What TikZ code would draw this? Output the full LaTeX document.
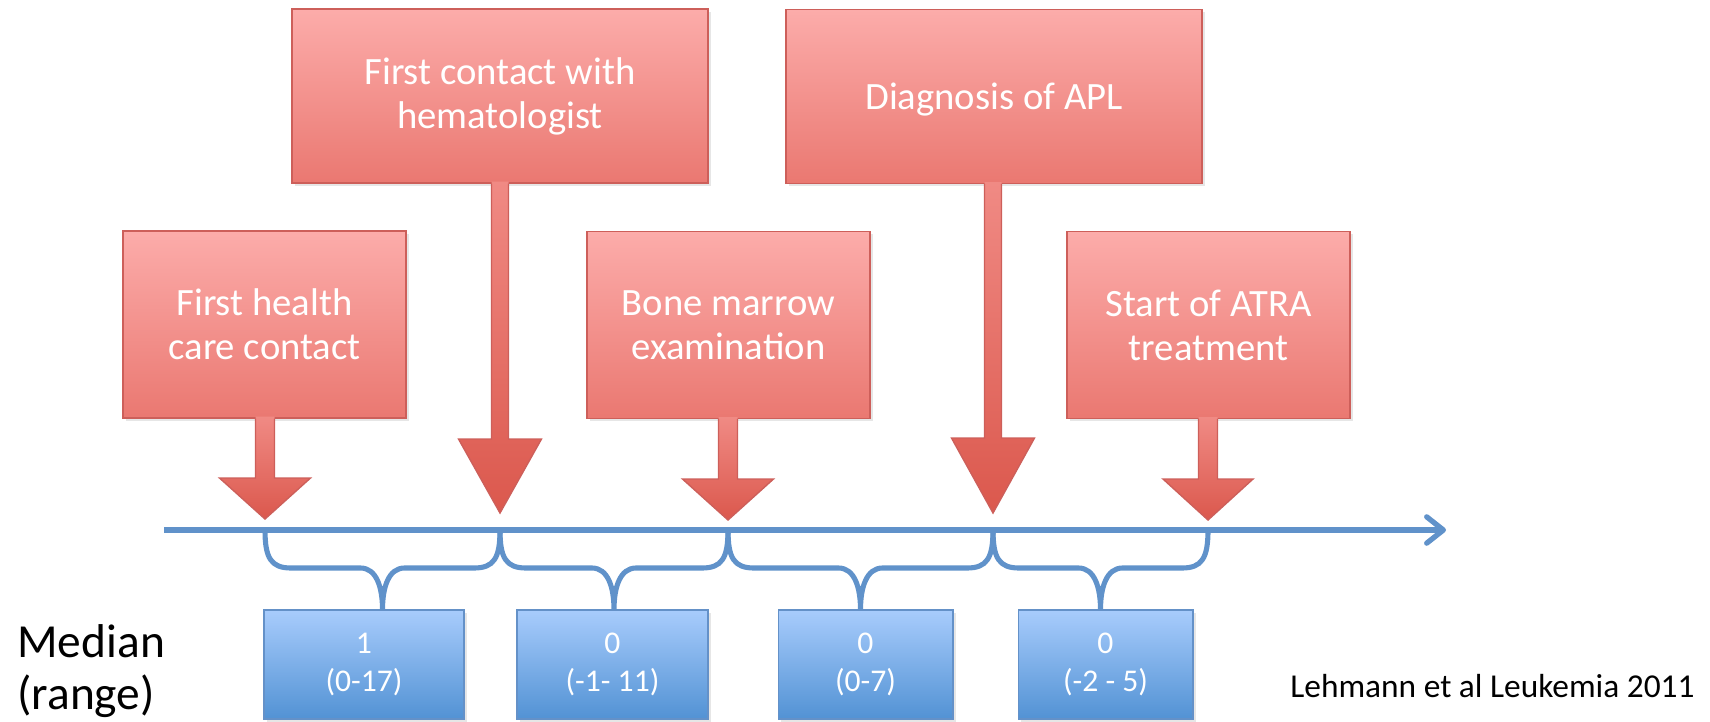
\documentclass[tikz,border=0pt]{standalone}
\usepackage{fontspec}
\setmainfont{Carlito}
\usepackage{tikz}
\usetikzlibrary{arrows.meta, positioning, calc, shadows}
\definecolor{CallTop}{RGB}{252,172,170}
\definecolor{CallBot}{RGB}{234,120,113}
\definecolor{ArrTop}{RGB}{240,138,132}
\definecolor{ArrBot}{RGB}{219,88,77}
\definecolor{CallLine}{RGB}{205,95,90}
\definecolor{LineBlue}{RGB}{96,146,202}
\definecolor{BoxTop}{RGB}{168,204,252}
\definecolor{BoxBot}{RGB}{82,146,212}
\definecolor{BoxLine}{RGB}{100,145,200}
\tikzset{
  callbox/.style={
    rectangle, draw=CallLine, line width=0.8pt,
    top color=CallTop, bottom color=CallBot,
    text=white, align=center, inner sep=0pt,
    font=\fontsize{22}{25}\selectfont,
    drop shadow={shadow xshift=1.5pt, shadow yshift=-1.5pt, opacity=0.2}
  },
  smallcall/.style={callbox, minimum width=5.66cm, minimum height=3.74cm},
  bigcall/.style={callbox, minimum width=8.32cm, minimum height=3.48cm},
  arrshade/.style={top color=ArrTop, bottom color=ArrBot},
  arrline/.style={draw=CallLine, line width=0.8pt, line join=miter},
  valbox/.style={
    rectangle, draw=BoxLine, line width=0.6pt,
    top color=BoxTop, bottom color=BoxBot,
    text=white, align=center, inner sep=0pt,
    minimum height=2.18cm,
    font=\fontsize{18}{22}\selectfont,
    execute at begin node={\rule{0pt}{18.5pt}},
    drop shadow={shadow xshift=1.5pt, shadow yshift=-1.5pt, opacity=0.2}
  },
  timeline/.style={draw=LineBlue, line width=3pt,
    -{Straight Barb[length=9.5pt, width=15pt, round]}},
  bracket/.style={draw=LineBlue, line width=2.9pt},
  lbl/.style={text=black, inner sep=0pt}
}

\begin{document}
\begin{tikzpicture}[x=0.02cm, y=-0.02cm]
  \useasboundingbox (0,0) rectangle (1710,721);

  % Points on the time axis
  \coordinate (tl0) at (164,530);
  \coordinate (tl1) at (1446,530);
  \coordinate (j1) at (265,530);
  \coordinate (j2) at (500,530);
  \coordinate (j3) at (728,530);
  \coordinate (j4) at (993,530);
  \coordinate (j5) at (1208,530);

  % Median boxes
  \node[valbox, minimum width=4.0cm]  (v1) at (364,664.5)  {1\\(0-17)};
  \node[valbox, minimum width=3.82cm] (v2) at (612.5,664.5) {0\\(-1- 11)};
  \node[valbox, minimum width=3.5cm]  (v3) at (865.5,664.5) {0\\(0-7)};
  \node[valbox, minimum width=3.5cm]  (v4) at (1105.5,664.5) {0\\(-2 - 5)};

  % Braces
  \foreach \a/\b/\v in {j1/j2/v1, j2/j3/v2, j3/j4/v3, j4/j5/v4} {
    \coordinate (m) at ($(\a)!0.5!(\b)$);
    \draw[bracket] (\a) .. controls +(0,28) and +(-20,0) .. ($(\a)+(26,38)$)
      -- ($(m)+(-22,38)$) .. controls +(16,0) and +(0,-22) .. (m |- \v.north)
      .. controls +(0,-22) and +(-16,0) .. ($(m)+(22,38)$)
      -- ($(\b)+(-26,38)$) .. controls +(20,0) and +(0,28) .. (\b);
  }

  % Time axis
  \draw[timeline] (tl0) -- (tl1);

  % Event callouts
  \node[smallcall] (fhc)  at (264.5,324.5) {First health\\care contact};
  \node[bigcall]   (fch)  at (500,96)      {First contact with\\hematologist};
  \node[smallcall] (bme)  at (728.5,325)   {Bone marrow\\examination};
  \node[bigcall, text depth=0pt] (dx) at (994,96.5) {Diagnosis of APL};
  \node[smallcall] (atra) at (1208.5,325)  {Start of ATRA\\treatment};

  % Callout arrows
  \foreach \b/\j/\w/\h/\L/\g in {fhc/j1/9.5/45.5/41/11, fch/j2/8.5/41.5/74/17,
      bme/j3/9.5/45.5/41/10, dx/j4/8.5/41.5/75/17, atra/j5/9.5/45/41/10} {
    \coordinate (tip) at ($(\j)+(0,-\g)$);
    \shade[arrshade] ($(tip |- \b.south)+(-\w,-2)$) -- ($(tip)+(-\w,-\L)$)
      -- ($(tip)+(-\h,-\L)$) -- (tip) -- ($(tip)+(\h,-\L)$)
      -- ($(tip)+(\w,-\L)$) -- ($(tip |- \b.south)+(\w,-2)$) -- cycle;
    \draw[arrline] ($(tip |- \b.south)+(-\w,0)$) -- ($(tip)+(-\w,-\L)$)
      -- ($(tip)+(-\h,-\L)$) -- (tip) -- ($(tip)+(\h,-\L)$)
      -- ($(tip)+(\w,-\L)$) -- ($(tip |- \b.south)+(\w,0)$);
  }

  % Side texts
  \node[lbl, font=\fontsize{27}{30}\selectfont, align=left, anchor=west]
       (med) at (17,671) {Median\\(range)};
  \node[lbl, font=\fontsize{19}{23}\selectfont, anchor=base west]
       (src) at (1290,697) {Lehmann et al Leukemia 2011};
\end{tikzpicture}
\end{document}
